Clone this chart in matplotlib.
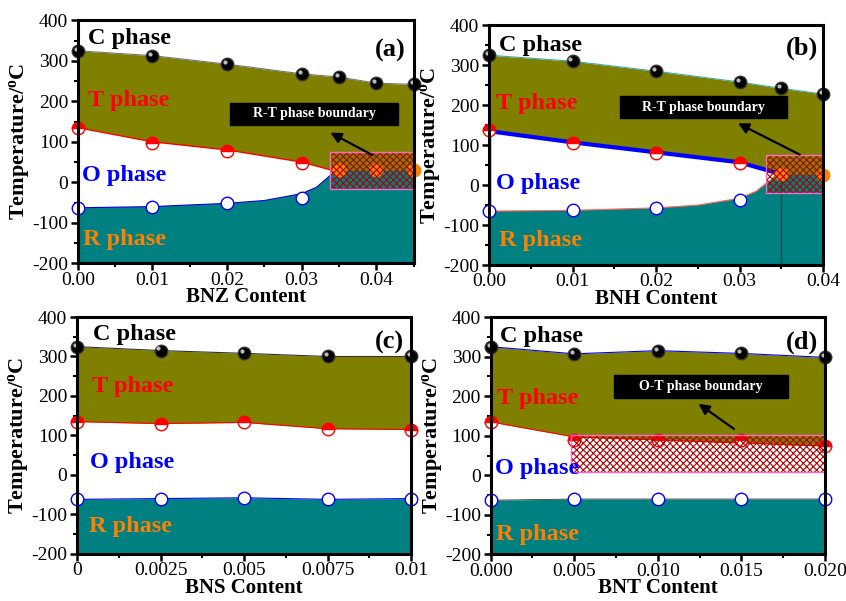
import numpy as np
import matplotlib.pyplot as plt
from matplotlib.patches import Rectangle
from matplotlib.transforms import ScaledTranslation

plt.rcParams['font.family'] = 'Liberation Serif'
plt.rcParams['axes.unicode_minus'] = False
plt.rcParams['hatch.linewidth'] = 0.8

OLIVE = '#808000'
TEAL = '#008080'
ORANGE = '#ff8000'

# ---- panel (a) BNZ ----
a_x = [0, 0.01, 0.02, 0.03, 0.035, 0.04, 0.045]
a_c = [325, 313, 292, 268, 260, 245, 242]
a_tx = [0, 0.01, 0.02, 0.03]
a_t = [135, 97, 78, 47]
a_o = [-63, -60, -52, -40]
a_rtx = [0.035, 0.04, 0.045]
a_rt = [30, 30, 30]
# phase boundaries
a_tb_x = [0, 0.01, 0.02, 0.03, 0.034]
a_tb_y = [135, 100, 80, 50, 30]
a_rb_x = [0, 0.01, 0.02, 0.025, 0.03, 0.032, 0.034, 0.036, 0.045]
a_rb_y = [-63, -60, -52, -45, -28, -12, 20, 30, 30]

# ---- panel (b) BNH ----
b_x = [0, 0.01, 0.02, 0.03, 0.035, 0.04]
b_c = [325, 310, 285, 258, 242, 228]
b_tx = [0, 0.01, 0.02, 0.03]
b_t = [137, 105, 80, 55]
b_o = [-65, -63, -57, -38]
b_rtx = [0.035, 0.04]
b_rt = [28, 26]
b_tb_x = [0, 0.01, 0.02, 0.03, 0.0345]
b_tb_y = [135, 107, 82, 57, 30]
b_rb_x = [0, 0.01, 0.02, 0.025, 0.03, 0.032, 0.0335, 0.035, 0.04]
b_rb_y = [-65, -63, -57, -50, -33, -15, 10, 27, 27]

# ---- panel (c) BNS ----
c_x = [0, 0.0025, 0.005, 0.0075, 0.01]
c_c = [325, 315, 308, 300, 300]
c_t = [135, 130, 133, 117, 115]
c_o = [-62, -60, -58, -62, -60]

# ---- panel (d) BNT ----
d_x = [0, 0.005, 0.01, 0.015, 0.02]
d_c = [325, 307, 315, 308, 298]
d_t = [135, 90, 90, 90, 75]
d_o = [-63, -60, -60, -60, -60]
d_tb_x = [0, 0.005, 0.02]
d_tb_y = [135, 97, 74]


def balls(ax, x, y):
    ax.plot(x, y, 'o', ms=9, mfc='black', mec='#333333', zorder=5, clip_on=False)
    shift = ax.transData + ScaledTranslation(-1.5/72, 1.5/72, ax.figure.dpi_scale_trans)
    ax.plot(x, y, 'o', ms=3, mfc='#bbbbbb', mec='none', zorder=6, clip_on=False, transform=shift)


def half(ax, x, y):
    ax.plot(x, y, 'o', ms=9, fillstyle='top', mfc='red', mfcalt='white', mec='red',
            mew=1.0, zorder=2.5, clip_on=False)


def openc(ax, x, y):
    ax.plot(x, y, 'o', ms=9, mfc='white', mec='blue', mew=1.0, zorder=4, clip_on=False)


def orange(ax, x, y):
    ax.plot(x, y, 'o', ms=9, mfc=ORANGE, mec=ORANGE, zorder=2.5, clip_on=False)


def hatchbox(ax, x0, y0, x1, y1):
    ax.add_patch(Rectangle((x0, y0), x1 - x0, y1 - y0, fill=False, hatch='xxxxx',
                           edgecolor='#b00000', lw=0, zorder=3))
    ax.add_patch(Rectangle((x0, y0), x1 - x0, y1 - y0, fill=False,
                           edgecolor='#ff66cc', lw=1.0, zorder=3.1))


def label_box(ax, x0, y0, x1, y1, text):
    ax.add_patch(Rectangle((x0, y0), x1 - x0, y1 - y0, color='black', zorder=6))
    ax.text((x0 + x1) / 2, (y0 + y1) / 2, text, color='white', fontsize=10,
            fontweight='bold', ha='center', va='center', zorder=7)


def arrow(ax, tail, head):
    ax.annotate('', xy=head, xytext=tail,
                arrowprops=dict(arrowstyle='-|>', color='black', lw=1.6,
                                mutation_scale=16), zorder=7)


def phases(ax, pos):
    kw = dict(transform=ax.transAxes, fontsize=17.5, fontweight='bold', va='center', zorder=8)
    cols = ['black', 'red', 'blue', ORANGE]
    names = ['C phase', 'T phase', 'O phase', 'R phase']
    for (px, py), n, c in zip(pos, names, cols):
        ax.text(px, py, n, color=c, **kw)


def style(ax, xlim, xticks, xlabels, xminor, xlabel, tag, tagpos):
    ax.set_xlim(xlim)
    ax.set_ylim(-200, 400)
    ax.set_xticks(xticks)
    ax.set_xticklabels(xlabels)
    ax.set_xticks(xminor, minor=True)
    ax.set_yticks([-200, -100, 0, 100, 200, 300, 400])
    ax.set_yticks([-150, -50, 50, 150, 250, 350], minor=True)
    ax.tick_params(which='major', direction='out', length=5, width=1.8, labelsize=14, pad=2)
    ax.tick_params(axis='x', which='major', pad=1)
    ax.tick_params(which='minor', direction='out', length=3, width=1.5)
    for s in ax.spines.values():
        s.set_linewidth(2.2)
        s.set_zorder(9)
    ax.set_xlabel(xlabel, fontsize=15, fontweight='bold', labelpad=-1)
    ax.set_ylabel('Temperature/$\\mathregular{^o}$C', fontsize=16, fontweight='bold', labelpad=0)
    ax.text(tagpos[0], tagpos[1], tag, transform=ax.transAxes, fontsize=19,
            fontweight='bold', ha='right', va='center', zorder=8)


fig = plt.figure(figsize=(8.46, 6.01), dpi=100)
axa = fig.add_axes([0.092, 0.562, 0.397, 0.404])
axb = fig.add_axes([0.578, 0.559, 0.395, 0.399])
axc = fig.add_axes([0.091, 0.0785, 0.395, 0.394])
axd = fig.add_axes([0.580, 0.0775, 0.395, 0.395])

# (a)
ax = axa
ax.fill_between(a_x, -200, a_c, color=OLIVE, lw=0, zorder=1)
ax.plot(a_x, a_c, color='#777777', lw=0.8, zorder=1.5)
ax.fill(np.r_[a_tb_x, a_rb_x[:7][::-1]], np.r_[a_tb_y, a_rb_y[:7][::-1]], color='white', lw=0, zorder=1.2)
ax.fill_between(a_rb_x, -200, a_rb_y, color=TEAL, lw=0, zorder=1.3)
ax.plot(a_tb_x, a_tb_y, color='red', lw=1.0, zorder=2)
ax.plot(a_rb_x[:7], a_rb_y[:7], color='blue', lw=0.8, zorder=2)
ax.plot([0, 0], [a_rb_y[0], a_tb_y[0]], color='red', lw=1.5, zorder=2)
orange(ax, a_rtx, a_rt)
hatchbox(ax, 0.0338, -17, 0.045, 74)
half(ax, a_tx, a_t)
openc(ax, a_tx, a_o)
balls(ax, a_x, a_c)
label_box(ax, 0.0204, 141, 0.0429, 197, 'R-T phase boundary')
arrow(ax, (0.0398, 64), (0.0335, 126))
phases(ax, [(0.03, 0.926), (0.03, 0.67), (0.012, 0.362), (0.015, 0.099)])
style(ax, (0, 0.045), [0, 0.01, 0.02, 0.03, 0.04], ['0.00', '0.01', '0.02', '0.03', '0.04'],
      [0.005, 0.015, 0.025, 0.035, 0.045], 'BNZ Content', '(a)', (0.975, 0.877))

# (b)
ax = axb
ax.fill_between(b_x, -200, b_c, color=OLIVE, lw=0, zorder=1)
ax.plot(b_x, b_c, color='#44aaaa', lw=0.8, zorder=1.5)
ax.fill(np.r_[b_tb_x, b_rb_x[:7][::-1]], np.r_[b_tb_y, b_rb_y[:7][::-1]], color='white', lw=0, zorder=1.2)
ax.fill_between(b_rb_x, -200, b_rb_y, color=TEAL, lw=0, zorder=1.3)
ax.plot(b_rb_x[:7], b_rb_y[:7], color='#ff6666', lw=0.8, zorder=2)
ax.plot(b_tb_x, b_tb_y, color='blue', lw=3, zorder=2)
ax.plot([0, 0], [b_rb_y[0], b_tb_y[0]], color='blue', lw=2.5, zorder=2)
ax.plot([0.035, 0.035], [-200, 27], color='#0a4a4a', lw=1.0, zorder=2)
orange(ax, b_rtx, b_rt)
hatchbox(ax, 0.0332, -20, 0.04, 75)
half(ax, b_tx, b_t)
openc(ax, b_tx, b_o)
balls(ax, b_x, b_c)
label_box(ax, 0.0157, 167, 0.0357, 222, 'R-T phase boundary')
arrow(ax, (0.0375, 73), (0.0295, 158))
phases(ax, [(0.03, 0.917), (0.02, 0.675), (0.02, 0.34), (0.03, 0.104)])
style(ax, (0, 0.04), [0, 0.01, 0.02, 0.03, 0.04], ['0.00', '0.01', '0.02', '0.03', '0.04'],
      [0.005, 0.015, 0.025, 0.035], 'BNH Content', '(b)', (0.985, 0.904))

# (c)
ax = axc
ax.fill_between(c_x, c_t, c_c, color=OLIVE, lw=0, zorder=1)
ax.fill_between(c_x, -200, c_o, color=TEAL, lw=0, zorder=1)
ax.plot(c_x, c_c, color='#333333', lw=0.8, zorder=2)
ax.plot(c_x, c_t, color='red', lw=0.8, zorder=2)
ax.plot(c_x, c_o, color='blue', lw=0.8, zorder=2)
ax.plot([0, 0], [c_o[0], c_t[0]], color='red', lw=1.0, zorder=2)
ax.plot([0.01, 0.01], [c_o[-1], c_t[-1]], color='red', lw=1.0, zorder=2)
half(ax, c_x, c_t)
openc(ax, c_x, c_o)
balls(ax, c_x, c_c)
phases(ax, [(0.048, 0.925), (0.046, 0.705), (0.04, 0.386), (0.037, 0.116)])
style(ax, (0, 0.01), [0, 0.0025, 0.005, 0.0075, 0.01], ['0', '0.0025', '0.005', '0.0075', '0.01'],
      [0.00125, 0.00375, 0.00625, 0.00875], 'BNS Content', '(c)', (0.98, 0.892))

# (d)
ax = axd
ax.fill_between(d_x, -200, d_c, color=OLIVE, lw=0, zorder=1)
ax.fill_between(d_tb_x, -200, d_tb_y, color='white', lw=0, zorder=1.2)
ax.fill_between(d_x, -200, d_o, color=TEAL, lw=0, zorder=1.3)
ax.plot(d_x, d_c, color='blue', lw=0.8, zorder=2)
ax.plot(d_tb_x, d_tb_y, color='red', lw=0.8, zorder=2)
ax.plot(d_x, d_o, color='#333333', lw=0.6, zorder=2)
half(ax, d_x, d_t)
hatchbox(ax, 0.0048, 8, 0.02, 102)
openc(ax, d_x, d_o)
balls(ax, d_x, d_c)
label_box(ax, 0.0074, 196, 0.0178, 253, 'O-T phase boundary')
arrow(ax, (0.0147, 113), (0.0123, 185))
phases(ax, [(0.027, 0.917), (0.02, 0.657), (0.012, 0.36), (0.015, 0.083)])
style(ax, (0, 0.02), [0, 0.005, 0.01, 0.015, 0.02], ['0.000', '0.005', '0.010', '0.015', '0.020'],
      [0.0025, 0.0075, 0.0125, 0.0175], 'BNT Content', '(d)', (0.98, 0.893))

fig.savefig('out.png', dpi=100)
